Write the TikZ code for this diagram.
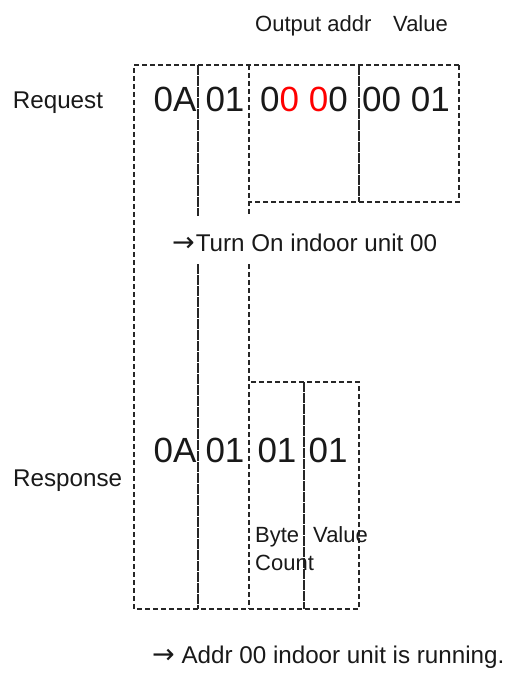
\documentclass[tikz,border=0pt]{standalone}
\usepackage{fontspec}
\setmainfont{Liberation Sans}
\newfontfamily\arrowfont{DejaVu Sans}
\newcommand{\myarrow}{{\arrowfont\fontsize{27}{27}\selectfont →}}
\begin{document}
\begin{tikzpicture}[x=1pt,y=-1pt,
  box/.style={draw=black!85, line width=1.1pt, dash pattern=on 5pt off 3pt},
  sepline/.style={draw=black!85, line width=1.1pt, dash pattern=on 10pt off 1pt},
  big/.style={font=\fontsize{35}{35}\selectfont, inner sep=0pt, anchor=base, text=black!90},
  lbl/.style={font=\fontsize{24.2}{27}\selectfont, inner sep=0pt, anchor=base west, text=black!90},
  small/.style={font=\fontsize{22}{27}\selectfont, inner sep=0pt, anchor=base west, text=black!90}]
\useasboundingbox (0,0) rectangle (507,676);
% frames
\draw[box] (459,65) -- (134,65) -- (134,609) -- (359,609) -- (359,382) -- (249,382);
\draw[box] (459,65) -- (459,202) -- (249,202);
\draw[box] (249,65) -- (249,216);
\draw[box] (249,264) -- (249,609);
\draw[sepline] (359,65) -- (359,202);
\draw[sepline] (198,65) -- (198,216);
\draw[sepline] (198,264) -- (198,609);
\draw[sepline] (304,382) -- (304,609);
% header labels
\node[small] (oaddr) at (255,31.5) {Output addr};
\node[small] (oval) at (393,31.5) {Value};
\node[lbl] (req) at (12.7,108.3) {Request};
\node[lbl] (resp) at (13,486.7) {Response};
% request bytes
\node[big] (r1) at (175,112) {0A};
\node[big] (r2) at (225,112) {01};
\node[big] (r3) at (304,112) {0\textcolor{red}{0} \textcolor{red}{0}0};
\node[big] (r4) at (406,112) {00 01};
\node[lbl] (turn) at (172,251.7) {\myarrow\kern1pt Turn On indoor unit 00};
% response bytes
\node[big] (s1) at (175,462) {0A};
\node[big] (s2) at (225,462) {01};
\node[big] (s3) at (277,462) {01};
\node[big] (s4) at (328,462) {01};
\node[small] (bc1) at (255,542) {Byte};
\node[small] (bc2) at (255,570) {Count};
\node[small] (bv) at (313,542) {Value};
\node[lbl] (run) at (152,663) {\myarrow\ Addr 00 indoor unit is running.};
\end{tikzpicture}
\end{document}
